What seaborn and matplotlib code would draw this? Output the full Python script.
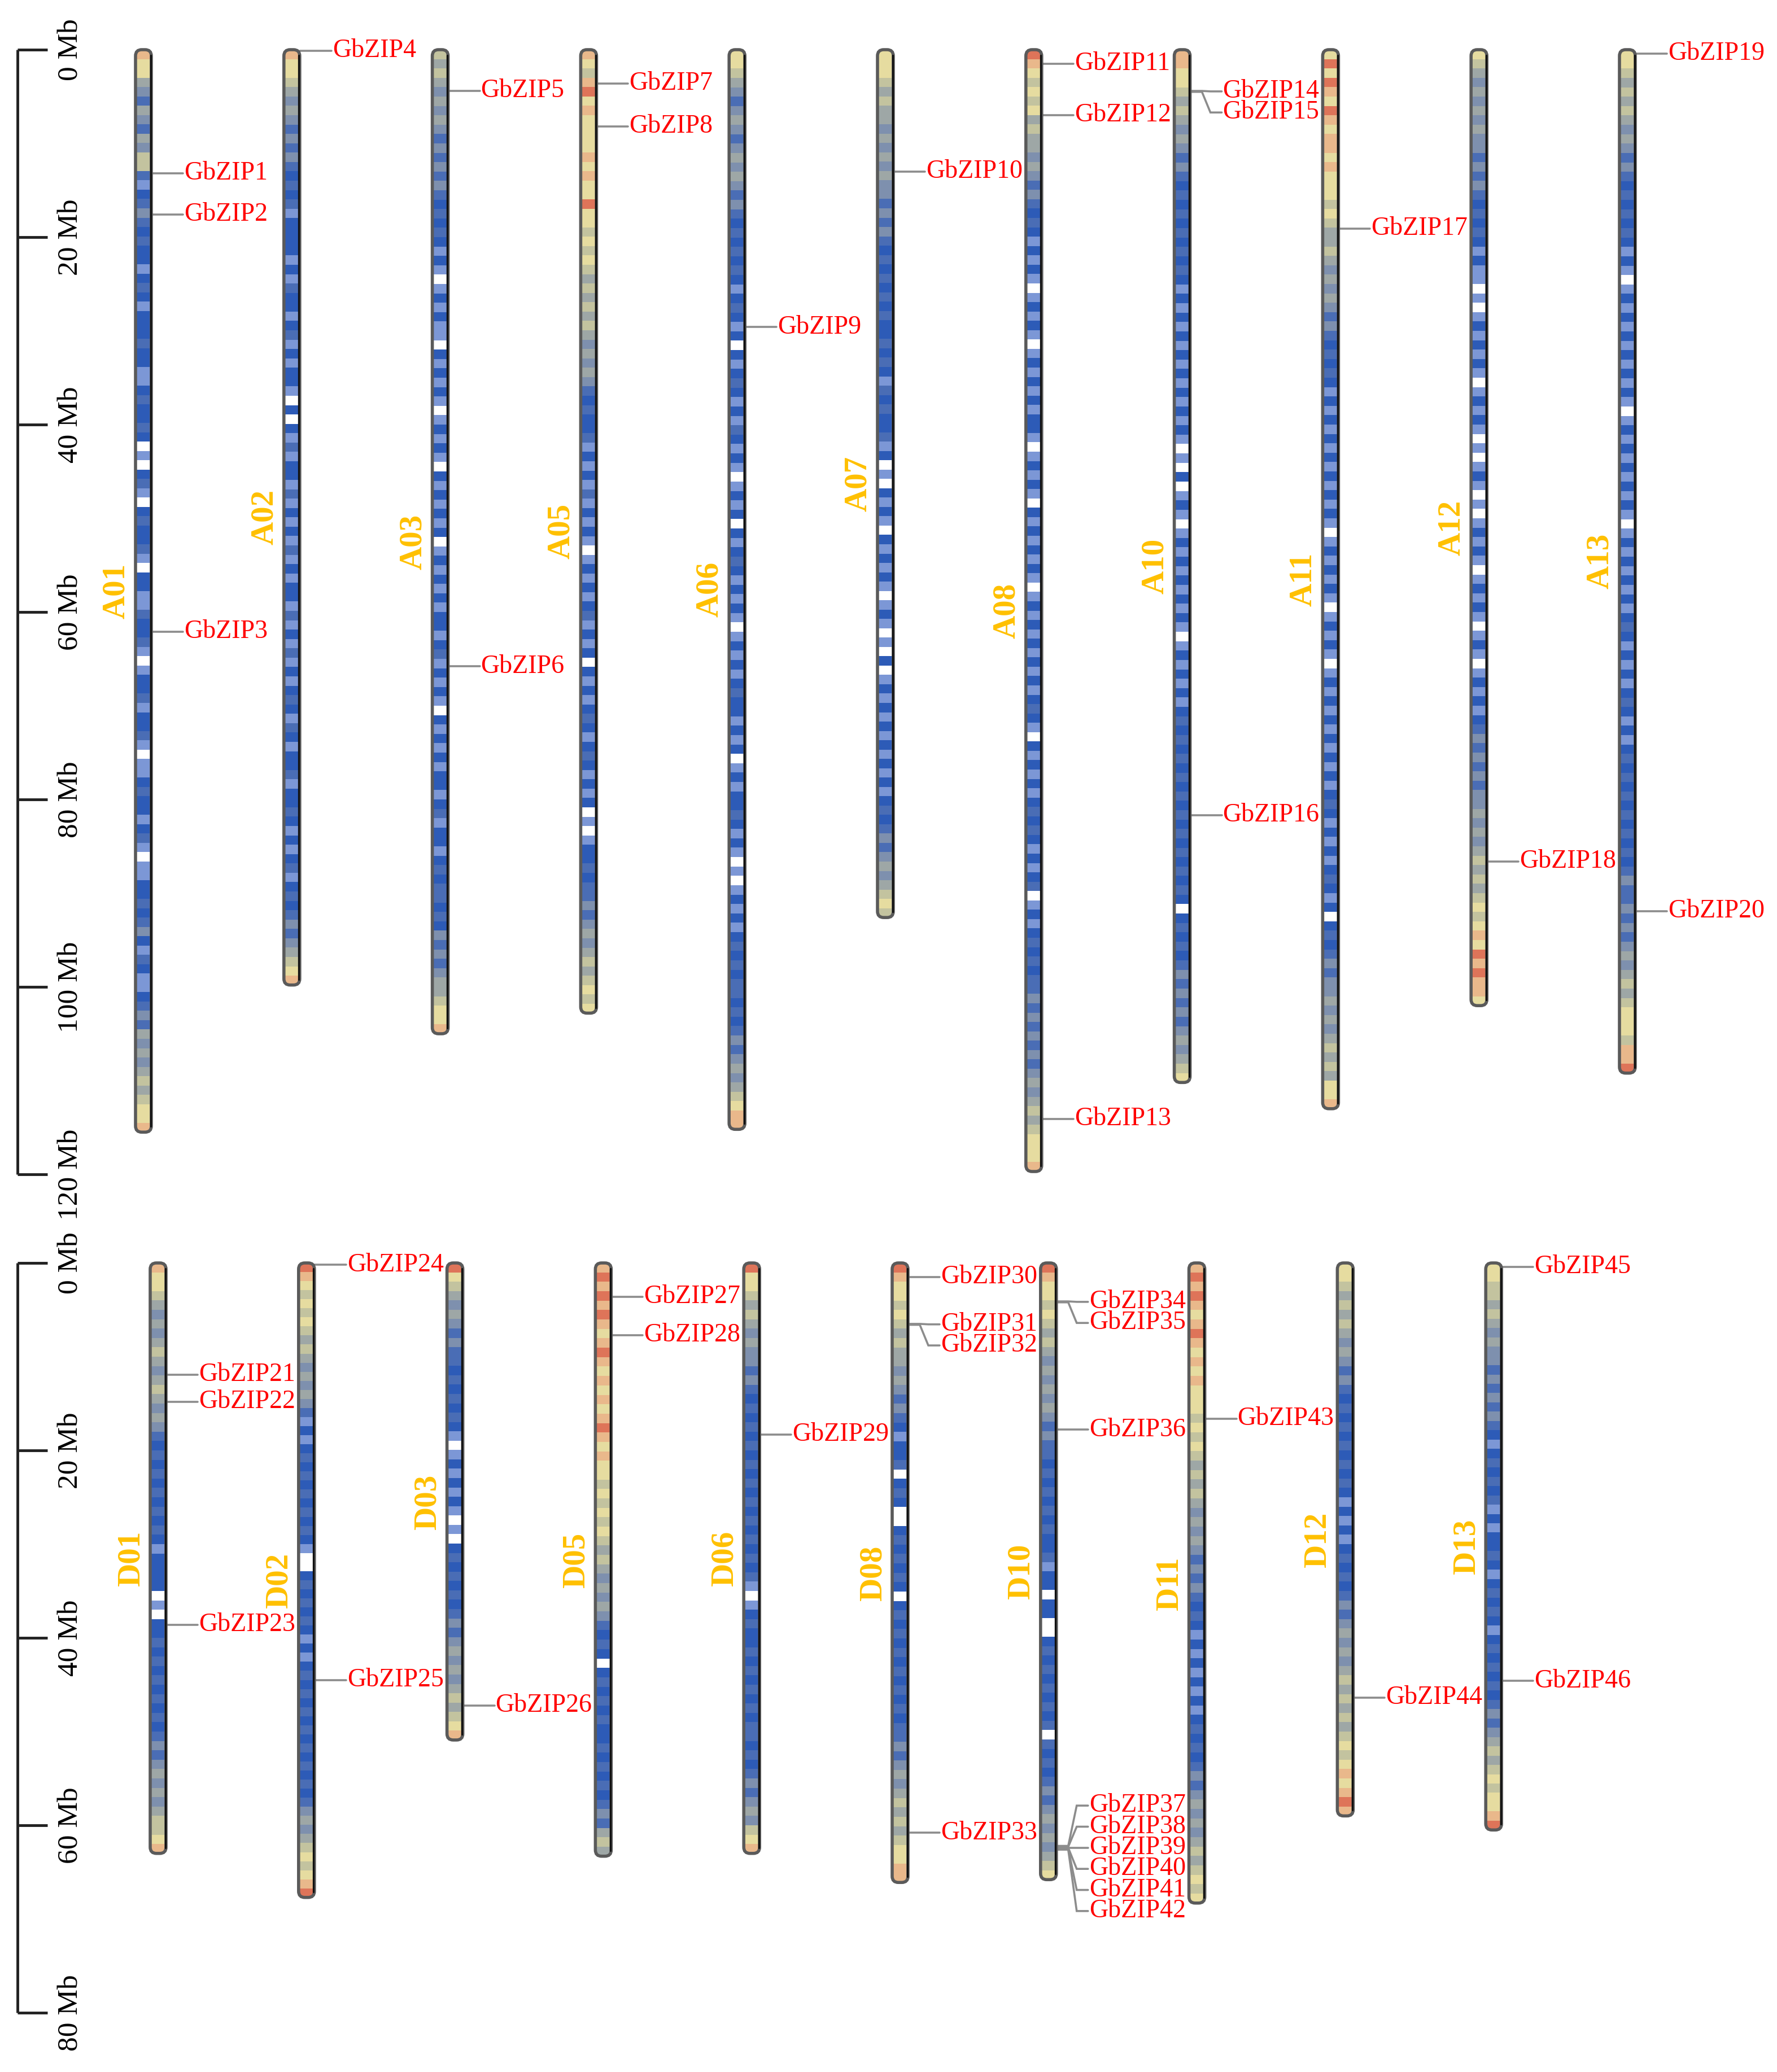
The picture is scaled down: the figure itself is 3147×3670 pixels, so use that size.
import numpy as np
import matplotlib
matplotlib.use("Agg")
import matplotlib.pyplot as plt
from matplotlib.colors import ListedColormap
from matplotlib.patches import FancyBboxPatch
import seaborn as sns

# ---- chromosomes (lengths in Mb) ----
a_names = ["A01", "A02", "A03", "A05", "A06", "A07", "A08", "A10", "A11", "A12", "A13"]
a_lengths = [115.5, 99.8, 105.0, 102.8, 115.2, 92.6, 119.7, 110.2, 113.0, 102.0, 109.2]
d_names = ["D01", "D02", "D03", "D05", "D06", "D08", "D10", "D11", "D12", "D13"]
d_lengths = [63.0, 67.7, 50.9, 63.3, 63.0, 66.1, 65.8, 68.3, 59.0, 60.5]

# gene density along each chromosome, one digit per ~1 Mb bin (read off the bands)
# 0 gap, 1 light blue, 2 blue ... 9 red (high density)
a_density = [
    "8775435435 4663123432 3221232122 2322112322 3201023102 3223102211 3223101223 1223101123 2212310112 2323421321 1234354545 656778",
    "8776545434 3432323122 2212132212 3121221020 2131221312 1213121221 3121312123 2132122312 2321212312 3234345678",
    "6565454543 4343432323 2121012121 1021212101 2121021212 1201212121 2212312121 0212121221 2312212323 3232434345 56778",
    "8768978777 7878779776 7676565656 5454543232 2312121312 1210121212 3121202121 2321232121 2010122323 3434545656 767",
    "7765434543 4545434323 2323212321 2021232121 3212101212 0212321212 1012121232 2121201212 2321210101 2121232323 3232343454 56788",
    "7776565545 4545443434 3232323232 2323213232 2312010212 1021212101 2101020121 2121212121 2323434545 676",
    "9876767565 5454343232 1212101212 1012121212 2101212102 1212121012 1212121212 3210212121 2323212123 0121232323 3434343434 5456567778",
    "8877656545 4343232323 2323212121 2121212121 2101020121 0121212121 2101212121 2323232323 2323232323 2023232343 4343454567",
    "7979879878 8787776765 5654545434 3232321212 1212121212 1012121210 1212101212 1212121212 3212121232 1202323434 4545456565 778",
    "7654545454 4343432323 2121101012 1212101212 1010121010 1212101212 1012101212 1234343434 4545456565 6767879898 87",
    "7765656545 4343232323 2121012121 2121212101 2121212121 0121212121 2321212123 2121232323 2323232343 3434345456 567776889",
]
d_density = [
    "8776545456 5456545432 3232323232 1222201022 3232323232 3434545456 678",
    "9876767656 5454543121 2323232323 2100232323 2121232323 2323232323 4545676789",
    "9765454343 3232323210 1212121010 2323232343 4545456567 8",
    "8989898789 8787878987 8776767676 5654545432 3202323232 2323232343 565",
    "9776565454 4343232323 2323232323 2323101232 2323232323 3232343454 678",
    "9877676565 5454343212 2302320023 2323202323 2323232323 3434545656 567788",
    "9877676565 4545454343 3232323232 2312202200 2323232323 0323234345 454567",
    "8989878987 8787776767 6565654545 4343432321 2121212123 2323434545 45656767",
    "7765656545 4343232323 2323212121 2323234345 4545656565 676787898",
    "7766565454 4343434321 2323231212 2321232321 2323232343 4565676778 9",
]
density_colors = ["#ffffff", "#7c97d6", "#2d5bb7", "#4a6db5", "#7e90ae",
                  "#9ea7a6", "#c3c39f", "#e6dca0", "#e9b88b", "#de7459"]

# ---- bZIP genes ----
gene_names = ["GbZIP1", "GbZIP2", "GbZIP3", "GbZIP4", "GbZIP5", "GbZIP6", "GbZIP7", "GbZIP8",
              "GbZIP9", "GbZIP10", "GbZIP11", "GbZIP12", "GbZIP13", "GbZIP14", "GbZIP15",
              "GbZIP16", "GbZIP17", "GbZIP18", "GbZIP19", "GbZIP20", "GbZIP21", "GbZIP22",
              "GbZIP23", "GbZIP24", "GbZIP25", "GbZIP26", "GbZIP27", "GbZIP28", "GbZIP29",
              "GbZIP30", "GbZIP31", "GbZIP32", "GbZIP33", "GbZIP34", "GbZIP35", "GbZIP36",
              "GbZIP37", "GbZIP38", "GbZIP39", "GbZIP40", "GbZIP41", "GbZIP42", "GbZIP43",
              "GbZIP44", "GbZIP45", "GbZIP46"]
gene_chrom = ["A01", "A01", "A01", "A02", "A03", "A03", "A05", "A05", "A06", "A07",
              "A08", "A08", "A08", "A10", "A10", "A10", "A11", "A12", "A13", "A13",
              "D01", "D01", "D01", "D02", "D02", "D03", "D05", "D05", "D06",
              "D08", "D08", "D08", "D08", "D10", "D10", "D10", "D10", "D10", "D10",
              "D10", "D10", "D10", "D11", "D12", "D13", "D13"]
gene_mb = [13.2, 17.6, 62.1, 0.1, 4.4, 65.8, 3.6, 8.2, 29.6, 13.0,
           1.5, 7.0, 114.1, 4.4, 4.5, 81.7, 19.1, 86.6, 0.4, 91.9,
           11.9, 14.8, 38.6, 0.2, 44.5, 47.2, 3.6, 7.7, 18.3,
           1.5, 6.5, 6.6, 60.8, 4.1, 4.2, 17.8, 62.2, 62.3, 62.4,
           62.4, 62.5, 62.6, 16.6, 46.4, 0.4, 44.6]

sns.set_style("white")
plt.rcParams["font.family"] = ["Liberation Serif", "DejaVu Serif"]

W, H = 3147, 3670
PX_PER_MB = 16.6
SPACING = 262.8
LABEL_GAP = 2.25
cmap = ListedColormap(sns.color_palette(density_colors))


def label_positions(mbs):
    order = np.argsort(mbs)
    groups = []
    for i in order:
        if groups and mbs[i] - mbs[groups[-1][-1]] < LABEL_GAP:
            groups[-1].append(i)
        else:
            groups.append([i])
    pos = {}
    for g in groups:
        if len(g) == 1:
            pos[g[0]] = mbs[g[0]]
            continue
        centre = np.mean([mbs[i] for i in g]) + LABEL_GAP / 2
        for k, i in enumerate(g):
            pos[i] = centre + (k - (len(g) - 1) / 2) * LABEL_GAP
    return pos


def draw_panel(ax, names, lengths, density, x0, scale_max):
    # scale bar
    ax.plot([31, 31], [0, scale_max], color="#222222", lw=3.5, solid_capstyle="butt")
    for t in range(0, scale_max + 1, 20):
        ax.plot([31, 84], [t, t], color="#222222", lw=3.5, solid_capstyle="butt")
        ax.text(125, t, f"{t} Mb", rotation=90, ha="center", va="center",
                fontsize=37, color="black")

    for i, (name, length, dens) in enumerate(zip(names, lengths, density)):
        x = x0 + i * SPACING
        vals = np.array([int(c) for c in dens.replace(" ", "")])
        edges = np.linspace(0, length, len(vals) + 1)
        shape = FancyBboxPatch((x - 14, 0), 28, length,
                               boxstyle="round,pad=0,rounding_size=11",
                               mutation_aspect=1 / PX_PER_MB,
                               facecolor="none", edgecolor="#5a5a5a", lw=4, zorder=3)
        mesh = ax.pcolormesh([x - 14, x + 14], edges, vals[:, None], cmap=cmap,
                             vmin=-0.5, vmax=9.5, shading="flat", zorder=2)
        ax.add_patch(shape)
        mesh.set_clip_path(shape)
        ax.plot([x + 12.5, x + 12.5], [0.6, length - 0.6], color="#111111", lw=2.4, zorder=4)
        ax.text(x - 48, length / 2, name, rotation=90, ha="center", va="center",
                fontsize=41, fontweight="bold", color="#ffc000")

        idx = [k for k, c in enumerate(gene_chrom) if c == name]
        if not idx:
            continue
        mbs = [gene_mb[k] for k in idx]
        pos = label_positions(mbs)
        for j, k in enumerate(idx):
            g, lab = mbs[j], pos[j]
            ax.plot([x + 14, x + 35, x + 50, x + 70], [g, g, lab, lab],
                    color="#8c8c8c", lw=2.6, zorder=1, solid_joinstyle="miter")
            ax.text(x + 72, lab, gene_names[k], ha="left", va="center",
                    fontsize=33, color="#ff0000")


fig = plt.figure(figsize=(W / 100, H / 100), dpi=100)
split = 2150
ax_a = fig.add_axes([0, 1 - split / H, 1, split / H])
ax_d = fig.add_axes([0, 0, 1, 1 - split / H])

top0, bot0 = 88, 2237
ax_a.set_xlim(0, W)
ax_a.set_ylim((split - top0) / PX_PER_MB, -top0 / PX_PER_MB)
ax_d.set_xlim(0, W)
ax_d.set_ylim((H - bot0) / PX_PER_MB, (split - bot0) / PX_PER_MB)

draw_panel(ax_a, a_names, a_lengths, a_density, 254, 120)
draw_panel(ax_d, d_names, d_lengths, d_density, 280, 80)

for ax in (ax_a, ax_d):
    ax.set_axis_off()

fig.savefig("out.png", dpi=100, facecolor="white")
